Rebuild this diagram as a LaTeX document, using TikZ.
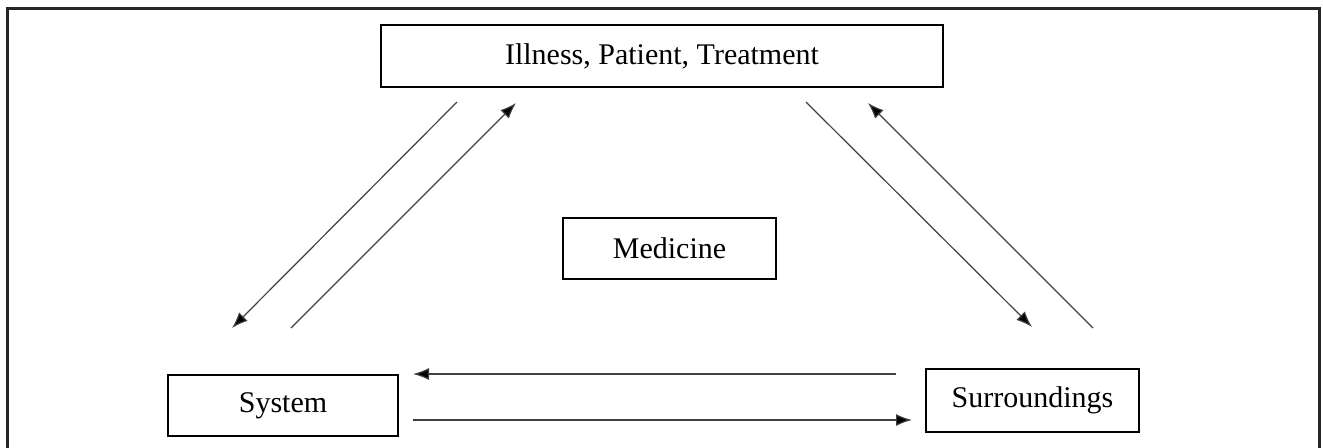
\documentclass[tikz,border=0pt]{standalone}
\usepackage{fontspec}
\setmainfont{Liberation Serif}
\usetikzlibrary{arrows.meta}
\begin{document}
\begin{tikzpicture}[x=0.5pt,y=-0.5pt,
    box/.style={draw,line width=0.9pt,inner sep=0pt,font=\fontsize{15}{18}\selectfont},
    link/.style={line width=0.6pt,draw=black!75,-{Latex[length=8pt,width=6pt,fill=black]}}]
  \useasboundingbox (0,0) rectangle (1323,447);
  \draw[line width=1.5pt,black!85] (7,470) -- (7,8) -- (1319,8) -- (1319,470);
  \draw
    (662,56) node[box,minimum width=281pt,minimum height=31pt] (ipt){Illness, Patient, Treatment}
    (669.5,248.5) node[box,minimum width=106.5pt,minimum height=30.5pt] (med){Medicine}
    (283,405.5) node[box,minimum width=115pt,minimum height=30.5pt] (sys){System}
    (1032.5,400.5) node[box,minimum width=106.5pt,minimum height=31.5pt] (sur){Surroundings};
  \coordinate (0) at (457,102);
  \coordinate (1) at (232,328);
  \coordinate (2) at (291,328);
  \coordinate (3) at (516,103);
  \coordinate (4) at (806,102);
  \coordinate (5) at (1032,327);
  \coordinate (6) at (1093,328);
  \coordinate (7) at (868,103);
  \coordinate (8) at (896,374);
  \coordinate (9) at (413,374);
  \coordinate (10) at (413,420);
  \coordinate (11) at (912,420);
  \begin{scope}[link]
    \draw (0) to (1);
    \draw (2) to (3);
    \draw (4) to (5);
    \draw (6) to (7);
    \draw (8) to (9);
    \draw (10) to (11);
  \end{scope}
\end{tikzpicture}
\end{document}
